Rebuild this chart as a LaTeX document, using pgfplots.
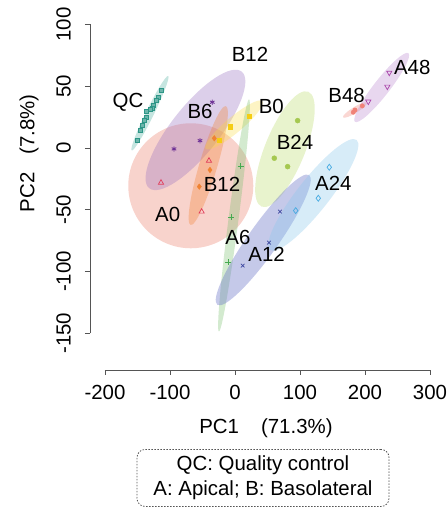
\documentclass[border=0pt]{standalone}
\usepackage{pgfplots}
\pgfplotsset{compat=1.18}
\usepackage{fontspec}
\setmainfont{Liberation Sans}
\usetikzlibrary{shapes.geometric}
\newcommand{\fsz}{\fontsize{20.5}{25}\selectfont}
\definecolor{axisgray}{RGB}{85,85,85}
\definecolor{cQC}{RGB}{45,150,135}
\definecolor{eQC}{RGB}{90,180,165}
\definecolor{cPur}{RGB}{110,50,150}
\definecolor{ePur}{RGB}{150,110,190}
\definecolor{cA0}{RGB}{225,60,90}
\definecolor{eA0}{RGB}{235,120,100}
\definecolor{cB12}{RGB}{240,130,50}
\definecolor{eB12}{RGB}{240,130,50}
\definecolor{cB0}{RGB}{245,205,20}
\definecolor{eB0}{RGB}{250,220,60}
\definecolor{cA6}{RGB}{70,170,80}
\definecolor{eA6}{RGB}{120,190,110}
\definecolor{cB24}{RGB}{165,200,80}
\definecolor{eB24}{RGB}{180,215,90}
\definecolor{cA12}{RGB}{60,70,160}
\definecolor{eA12}{RGB}{110,120,200}
\definecolor{cA24}{RGB}{70,170,225}
\definecolor{eA24}{RGB}{140,200,235}
\definecolor{cB48}{RGB}{240,130,120}
\definecolor{eB48}{RGB}{240,140,130}
\definecolor{cA48}{RGB}{170,70,170}
\definecolor{eA48}{RGB}{190,140,210}
\tikzset{ell/.style={ellipse, draw=none, inner sep=0pt, outer sep=0pt}}
\begin{document}
\begin{tikzpicture}
\begin{axis}[
  x=0.65bp, y=1.236bp,
  xmin=-223.1, xmax=310, ymin=-179.6, ymax=120,
  axis x line*=bottom, axis y line*=left,
  axis line style={draw=none},
  xtick={-200,-100,0,100,200,300},
  ytick={-150,-100,-50,0,50,100},
  tick align=outside, major tick length=5bp,
  tick style={line width=0.8bp, color=axisgray},
  /pgf/number format/assume math mode=true,
  ticklabel style={font=\fsz},
  xticklabel style={anchor=north, inner sep=0pt, yshift=-10bp},
  yticklabel style={rotate=90, anchor=south, inner sep=0pt, yshift=14bp},
  xlabel={PC1\hspace{22bp}(71.3\%)},
  ylabel={PC2\hspace{18bp}(7.8\%)},
  xlabel style={font=\fsz, at={(axis description cs:0.508,-0.157)}, anchor=center, inner sep=0pt},
  ylabel style={font=\fsz, at={(axis description cs:-0.176,0.585)}, anchor=center, inner sep=0pt, rotate=0},
  clip=false,
]
% axis lines (R style)
\draw[axisgray, line width=0.8bp] (axis cs:-200,-179.6) -- (axis cs:300,-179.6);
\draw[axisgray, line width=0.8bp] (axis cs:-223.1,-150) -- (axis cs:-223.1,100);

% confidence ellipses
\node[ell, fill=eA0, fill opacity=0.33, minimum width=125bp, minimum height=125bp] at (axis cs:-68,-30.6) {};
\node[ell, fill=ePur, fill opacity=0.33, minimum width=148.8bp, minimum height=48bp, rotate=51.6] at (axis cs:-60.8,14.6) {};
\node[ell, fill=eB12, fill opacity=0.33, minimum width=124bp, minimum height=18bp, rotate=73.5] at (axis cs:-41.1,-14.2) {};
\node[ell, fill=eB0, fill opacity=0.30, minimum width=74bp, minimum height=16bp, rotate=40] at (axis cs:-1.5,18.6) {};
\node[ell, fill=eA6, fill opacity=0.33, minimum width=234bp, minimum height=10bp, rotate=82.6] at (axis cs:-1.5,-54.6) {};
\node[ell, fill=eB24, fill opacity=0.30, minimum width=124bp, minimum height=40bp, rotate=67.9] at (axis cs:76.9,-1) {};
\node[ell, fill=eA12, fill opacity=0.40, minimum width=159bp, minimum height=30bp, rotate=54.7] at (axis cs:43.5,-74.4) {};
\node[ell, fill=eA24, fill opacity=0.35, minimum width=140bp, minimum height=32bp, rotate=51.8] at (axis cs:120.5,-38) {};
\node[ell, fill=eQC, fill opacity=0.35, minimum width=83bp, minimum height=8bp, rotate=63.9] at (axis cs:-130.8,28.1) {};
\node[ell, fill=eB48, fill opacity=0.35, minimum width=28bp, minimum height=6bp, rotate=31.7] at (axis cs:184.6,30.7) {};
\node[ell, fill=eA48, fill opacity=0.35, minimum width=87bp, minimum height=16bp, rotate=52.1] at (axis cs:225.7,48.9) {};

% points
\addplot[only marks, mark=square*, mark size=2bp, draw=cQC, fill=cQC!70, line width=0.5bp] coordinates {
(-113.8,46.4) (-118.0,41.0) (-121.5,38.3) (-125.7,34.8) (-128,32.5) (-130.8,31.3) (-135.8,29.4) (-137,25) (-139.5,22.7) (-142.0,18.6) (-145.1,14.6) (-150.3,6.5)};
\addplot[only marks, mark=asterisk, mark size=2.6bp, color=cPur, line width=0.9bp] coordinates {
(-34.9,37.0) (-53.8,5.9) (-93.8,-0.8)};
\addplot[only marks, mark=triangle, mark size=3bp, color=cA0, line width=0.7bp] coordinates {
(-40,-10.3) (-113.8,-28.1) (-51.3,-51.5)};
\addplot[only marks, mark=diamond*, mark size=2.8bp, color=cB12] coordinates {
(-31.8,7.8) (-38.5,-17.8) (-54.9,-31.3)};
\addplot[only marks, mark=square*, mark size=2.2bp, color=cB0] coordinates {
(22,25.9) (-7.7,17.2) (-24.2,6.5)};
\addplot[only marks, mark=+, mark size=3bp, color=cA6, line width=0.7bp] coordinates {
(8.7,-14.6) (-6.2,-56.1) (-10.3,-92.5)};
\addplot[only marks, mark=*, mark size=2.5bp, color=cB24] coordinates {
(96.4,22.1) (60.5,-8.3) (81.0,-15.1)};
\addplot[only marks, mark=x, mark size=2.6bp, color=cA12, line width=0.7bp] coordinates {
(69.2,-51.5) (52.3,-76.6) (11.8,-95.2)};
\addplot[only marks, mark=diamond, mark size=3bp, color=cA24, line width=0.7bp] coordinates {
(145.1,-15.6) (128.2,-40.7) (93.4,-50.7)};
\addplot[only marks, mark=*, mark size=2.2bp, color=cB48] coordinates {
(195.9,34) (184.6,30.7) (182,28.9)};
\addplot[only marks, mark=triangle, mark size=3bp, color=cA48, line width=0.7bp, every mark/.append style={rotate=180}] coordinates {
(237.4,60.9) (234.4,49.6) (205.1,37.5)};

% group labels
\begin{scope}[every node/.style={font=\fsz, inner sep=0pt}]
\node at (axis cs:23.1,75.8) {B12};
\node at (axis cs:-164.6,36.6) {QC};
\node at (axis cs:-53.8,29.4) {B6};
\node at (axis cs:55.8,33.4) {B0};
\node at (axis cs:92.3,4.9) {B24};
\node at (axis cs:-20,-29.4) {B12};
\node at (axis cs:-103.5,-54.2) {A0};
\node at (axis cs:151.3,-28.6) {A24};
\node at (axis cs:4.6,-72.2) {A6};
\node at (axis cs:48.7,-85.8) {A12};
\node at (axis cs:171.8,42.1) {B48};
\node at (axis cs:272.8,65) {A48};
\end{scope}

% note box
\node[draw=axisgray, line width=0.8bp, dash pattern=on 1.5bp off 1.5bp, rounded corners=8bp,
      minimum width=252bp, minimum height=57bp, align=center, font=\fsz, inner sep=0pt]
  at (axis cs:43.1,-267) {QC: Quality control\\A: Apical; B: Basolateral};

\coordinate (bbtl) at (axis cs:-361.5,119.7);
\coordinate (bbbr) at (axis cs:327.7,-291.3);
\end{axis}
\pgfresetboundingbox
\path[use as bounding box] (bbtl) rectangle (bbbr);
\end{tikzpicture}
\end{document}
